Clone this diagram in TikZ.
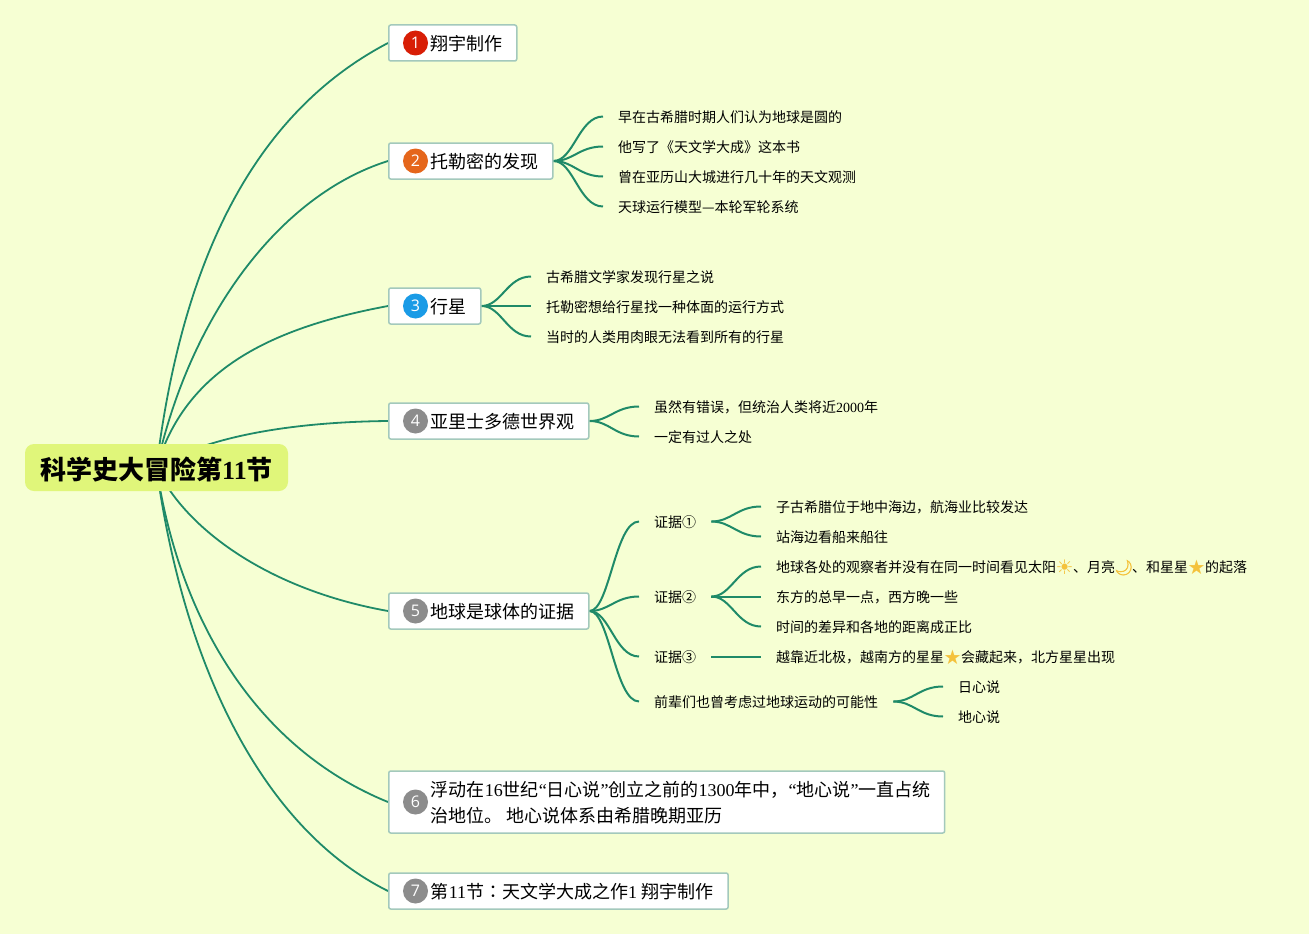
\documentclass[tikz,border=0pt]{standalone}
\usepackage{fontspec}
\usetikzlibrary{backgrounds}
\setmainfont{Noto Sans CJK SC}
\newfontfamily\latf{Liberation Serif}
\newfontfamily\tcfont{Noto Sans CJK TC}
\newfontfamily\mkf{Open Sans}
\newfontfamily\emj[FakeBold=2.5]{Noto Emoji}
\newfontfamily\djv{DejaVu Sans}
\newcommand{\la}[1]{{\latf #1}}
\definecolor{bgc}{HTML}{F6FFD3}
\definecolor{rootc}{HTML}{E0F67A}
\definecolor{linkc}{HTML}{1F8A68}
\definecolor{edgec}{HTML}{A3C9BC}
\definecolor{sunc}{HTML}{F4C23C}
\definecolor{mred}{HTML}{D81E06}
\definecolor{morange}{HTML}{E5661B}
\definecolor{mblue}{HTML}{1A9BE6}
\definecolor{mgrey}{HTML}{8C8C8C}
\newcommand{\emo}[1]{\makebox[17pt]{\textcolor{sunc}{\fontsize{20}{17}\selectfont\raisebox{-1.5pt}{#1}}}}
\newcommand{\moon}{\makebox[17pt]{\textcolor{sunc}{\fontsize{15}{17}\selectfont\emj 🌙}}}
\newcommand{\boxtxt}[1]{\hspace*{42pt}\raisebox{-7pt}[0pt][0pt]{\begin{tabular}{@{}l@{}}#1\end{tabular}}\hspace*{14pt}}
\tikzset{
  x=1pt,y=-1pt,
  rootn/.style={fill=rootc,rounded corners=9pt,inner sep=0pt,minimum width=263pt,minimum height=47pt,text height=26pt,text depth=2.2pt,font=\fontsize{26}{30}\selectfont\bfseries},
  boxn/.style={draw=edgec,line width=1.5pt,fill=white,rounded corners=2pt,inner sep=0pt,minimum height=36pt,anchor=west,text=black,font=\fontsize{18}{26}\selectfont},
  leafn/.style={inner xsep=15pt,inner ysep=0pt,anchor=west,text=black,text height=14pt,text depth=1.4pt,font=\fontsize{14}{18}\selectfont},
  mark1/.style={circle,inner sep=0pt,minimum size=25pt,text=white,font=\mkf\fontsize{16}{16}\selectfont},
  lnk/.style={draw=linkc,line width=2pt},
  main/.style={draw=linkc,line width=1.8pt},
}
\newcommand{\br}[2]{\draw[lnk] (#1.east) .. controls +(20,0) and +(-24,0) .. (#2.west);}
\begin{document}
\begin{tikzpicture}
\useasboundingbox (0,0) rectangle (1309,934);
\node[rootn] (root) at (156.5,467.5) {科学史大冒险第\la{11}节};

\node[boxn] (b1) at (388,43) {\boxtxt{翔宇制作}};
\node[boxn] (b2) at (388,161) {\boxtxt{托勒密的发现}};
\node[boxn] (b3) at (388,306) {\boxtxt{行星}};
\node[boxn] (b4) at (388,421) {\boxtxt{亚里士多德世界观}};
\node[boxn] (b5) at (388,611) {\boxtxt{地球是球体的证据}};
\node[boxn,minimum height=62pt] (b6) at (388,802) {\boxtxt{浮动在\la{16}世纪\la{“}日心说\la{”}创立之前的\la{1300}年中，\la{“}地心说\la{”}一直占统\\治地位。 地心说体系由希腊晚期亚历}};
\node[boxn] (b7) at (388,891) {\boxtxt{第\la{11}节{\tcfont ：}天文学大成之作\la{1} 翔宇制作}\hspace*{1pt}};

\node[mark1,fill=mred] (m1) at (415.5,43) {1};
\node[mark1,fill=morange] (m2) at (415.5,161) {2};
\node[mark1,fill=mblue] (m3) at (415.5,306) {3};
\node[mark1,fill=mgrey] (m4) at (415.5,421) {4};
\node[mark1,fill=mgrey] (m5) at (415.5,611) {5};
\node[mark1,fill=mgrey] (m6) at (415.5,802) {6};
\node[mark1,fill=mgrey] (m7) at (415.5,891) {7};

\node[leafn] (a1) at (603,116.5) {早在古希腊时期人们认为地球是圆的};
\node[leafn] (a2) at (603,146.5) {他写了《天文学大成》这本书};
\node[leafn] (a3) at (603,176.5) {曾在亚历山大城进行几十年的天文观测};
\node[leafn] (a4) at (603,206.5) {天球运行模型—本轮军轮系统};

\node[leafn] (c1) at (531,276.5) {古希腊文学家发现行星之说};
\node[leafn] (c2) at (531,306) {托勒密想给行星找一种体面的运行方式};
\node[leafn] (c3) at (531,336.5) {当时的人类用肉眼无法看到所有的行星};

\node[leafn] (d1) at (639,406.5) {虽然有错误，但统治人类将近\la{2000}年};
\node[leafn] (d2) at (639,436.5) {一定有过人之处};

\node[leafn] (e1) at (639,521.5) {证据①};
\node[leafn] (e2) at (639,596.5) {证据②};
\node[leafn] (e3) at (639,656.5) {证据③};
\node[leafn] (e4) at (639,701.5) {前辈们也曾考虑过地球运动的可能性};

\node[leafn] (f1) at (761,506.5) {子古希腊位于地中海边，航海业比较发达};
\node[leafn] (f2) at (761,536.5) {站海边看船来船往};
\node[leafn] (g1) at (761,566.5) {地球各处的观察者并没有在同一时间看见太阳\emo{\djv ☀}、月亮\moon、和星星\emo{\djv ★}的起落};
\node[leafn] (g2) at (761,596.5) {东方的总早一点，西方晚一些};
\node[leafn] (g3) at (761,626.5) {时间的差异和各地的距离成正比};
\node[leafn] (h1) at (761,656.5) {越靠近北极，越南方的星星\emo{\djv ★}会藏起来，北方星星出现};
\node[leafn] (i1) at (943,686.5) {日心说};
\node[leafn] (i2) at (943,716.5) {地心说};

\begin{scope}[on background layer]
\fill[bgc] (0,0) rectangle (1309,934);
\draw[main] (root.center) .. controls (183,250) and (260,110) .. (b1.west);
\draw[main] (root.center) .. controls (190,315) and (280,195) .. (b2.west);
\draw[main] (root.center) .. controls (185,370) and (270,328) .. (b3.west);
\draw[main] (root.center) .. controls (205,437) and (290,422) .. (b4.west);
\draw[main] (root.center) .. controls (186,530) and (270,590) .. (b5.west);
\draw[main] (root.center) .. controls (180,625) and (260,750) .. (b6.west);
\draw[main] (root.center) .. controls (184,670) and (265,830) .. (b7.west);
\br{b2}{a1}\br{b2}{a2}\br{b2}{a3}\br{b2}{a4}
\br{b3}{c1}\br{b3}{c2}\br{b3}{c3}
\br{b4}{d1}\br{b4}{d2}
\br{b5}{e1}\br{b5}{e2}\br{b5}{e3}\br{b5}{e4}
\br{e1}{f1}\br{e1}{f2}
\br{e2}{g1}\br{e2}{g2}\br{e2}{g3}
\br{e3}{h1}
\br{e4}{i1}\br{e4}{i2}
\end{scope}
\end{tikzpicture}
\end{document}
